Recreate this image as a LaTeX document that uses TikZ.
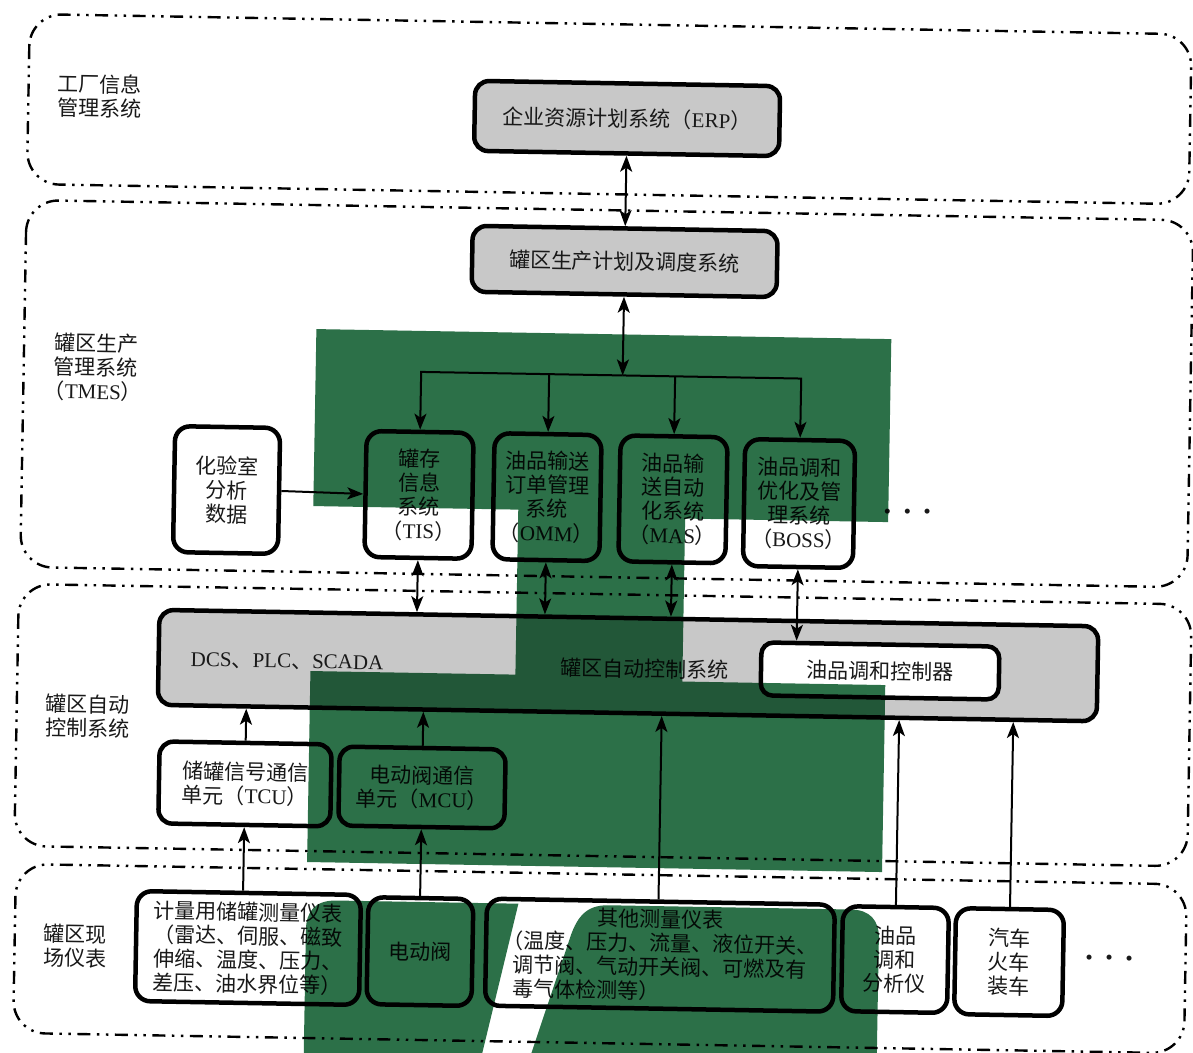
\documentclass[tikz,border=0pt]{standalone}
\usepackage{fontspec}
\setmainfont{Noto Sans CJK SC}
\newfontfamily\latf{Liberation Serif}
\newcommand\ltn[1]{{\latf #1}}
\usetikzlibrary{arrows.meta}
\definecolor{ovgreen}{RGB}{44,112,72}
\definecolor{boxgray}{RGB}{200,200,200}
\definecolor{ink}{RGB}{25,25,25}
\begin{document}
\begin{tikzpicture}[x=1pt,y=-1pt,
  every node/.style={font=\fontsize{21}{24}\selectfont, text=ink},
  layer/.style={draw=black, line width=2.4pt, rounded corners=32pt,
    dash pattern=on 13pt off 6.5pt on 2.5pt off 6.5pt on 2.5pt off 6.5pt},
  sysbox/.style={draw=black, line width=4.5pt, rounded corners=15pt, fill=white, align=center, inner sep=0pt},
  graybox/.style={draw=black, line width=4.5pt, rounded corners=14pt, fill=boxgray, inner sep=0pt, align=center},
  lbl/.style={align=left, anchor=west, inner sep=0pt},
  conn/.style={line width=2pt, draw=black},
  arr/.style={conn, -{Stealth[length=16pt,width=12pt,inset=4pt]}},
  darr/.style={conn, {Stealth[length=16pt,width=12pt,inset=4pt]}-{Stealth[length=16pt,width=12pt,inset=4pt]}},
]
\useasboundingbox (0,0) rectangle (1193,1052);
\fill[white] (0,0) rectangle (1193,1052);
\begin{scope}[rotate around={-1:(596.5,526)}, transform shape]
% layer frames
\draw[layer] (21,24) rectangle (1183,194);
\draw[layer] (21,210) rectangle (1188,577);
\draw[layer] (20,594) rectangle (1193,856);
\draw[layer] (22,874) rectangle (1193,1043);
% layer labels
\node[lbl] (t1) at (50,105) {工厂信息\\管理系统};
\node[lbl] (t2) at (51,376) {罐区生产\\管理系统\\\hspace*{-0.45em}（\ltn{TMES}）};
\node[lbl] (t3) at (49,725) {罐区自动\\控制系统};
\node[lbl] (t4) at (51,955) {罐区现\\场仪表};
% top boxes
\node[graybox, minimum width=305pt, minimum height=70pt] (erp) at (620,118) {企业资源计划系统（\ltn{ERP}）};
\node[graybox, minimum width=305pt, minimum height=66pt] (plan) at (620,261) {罐区生产计划及调度系统};
% TMES boxes
\node[sysbox, minimum width=105pt, minimum height=126pt] (lab) at (226,496.5) {化验室\\分析\\数据};
\node[sysbox, minimum width=107pt, minimum height=126pt] (tis) at (418.5,498) {罐存\\信息\\系统\\（\ltn{TIS}）};
\node[sysbox, minimum width=107pt, minimum height=126pt] (omm) at (546.5,498) {油品输送\\订单管理\\系统\\（\ltn{OMM}）};
\node[sysbox, minimum width=107pt, minimum height=126pt] (mas) at (672.5,498) {油品输\\送自动\\化系统\\（\ltn{MAS}）};
\node[sysbox, minimum width=110pt, minimum height=127pt] (boss) at (798.6,500) {油品调和\\优化及管\\理系统\\（\ltn{BOSS}）};
\node[anchor=base] (dots1) at (907,513) {\ltn{\textbullet\hspace{12.6pt}\textbullet\hspace{12.6pt}\textbullet}};
% automation layer
\node[graybox, minimum width=939pt, minimum height=95pt] (bus) at (630.5,665) {};
\node[anchor=west, inner sep=0pt] (dcs) at (193,667) {\ltn{DCS}、\ltn{PLC}、\ltn{SCADA}};
\node[inner sep=0pt] (busname) at (647,668) {罐区自动控制系统};
\node[sysbox, minimum width=238pt, minimum height=53pt, rounded corners=12pt] (ctrl) at (882.5,666) {油品调和控制器};
\node[sysbox, minimum width=172pt, minimum height=82pt, rounded corners=14pt] (tcu) at (249.5,790) {储罐信号通信\\单元（\ltn{TCU}）};
\node[sysbox, minimum width=166pt, minimum height=79pt, rounded corners=14pt] (mcu) at (426.6,790.5) {电动阀通信\\单元（\ltn{MCU}）};
% field layer
\node[sysbox, minimum width=224pt, minimum height=110pt] (meter) at (255.4,954) {计量用储罐测量仪表\\（雷达、伺服、磁致\\伸缩、温度、压力、\\差压、油水界位等）};
\node[sysbox, minimum width=105pt, minimum height=107pt] (valve) at (427.4,954.6) {电动阀};
\node[sysbox, minimum width=348pt, minimum height=107pt] (other) at (667.4,954) {其他测量仪表\\（温度、压力、流量、液位开关、\\调节阀、气动开关阀、可燃及有\\\makebox[14em][l]{毒气体检测等）}};
\node[sysbox, minimum width=106pt, minimum height=105pt] (ana) at (902.5,954.3) {油品\\调和\\分析仪};
\node[sysbox, minimum width=108pt, minimum height=106pt] (car) at (1016.6,954.8) {汽车\\火车\\装车};
\node[anchor=base] (dots2) at (1116.6,956) {\ltn{\textbullet\hspace{12.6pt}\textbullet\hspace{12.6pt}\textbullet}};
% connectors
\coordinate (junc) at (620,375);
\draw[darr] (erp.south) -- (plan.north);
\draw[darr] (plan.south) -- (junc);
\draw[arr] (junc) -| (tis.north);
\draw[arr] (junc) -| (boss.north);
\draw[arr] (omm.north |- junc) -- (omm.north);
\draw[arr] (mas.north |- junc) -- (mas.north);
\draw[arr] (lab.east) -- (tis.west);
\draw[darr] (tis.south) -- (tis.south |- bus.north);
\draw[darr] (omm.south) -- (omm.south |- bus.north);
\draw[darr] (mas.south) -- (mas.south |- bus.north);
\draw[darr] (boss.south) -- (boss.south |- ctrl.north);
\draw[arr] (tcu.north) -- (tcu.north |- bus.south);
\draw[arr] (mcu.north) -- (mcu.north |- bus.south);
\draw[arr] (tcu.south |- meter.north) -- (tcu.south);
\draw[arr] (mcu.south |- valve.north) -- (mcu.south);
\draw[arr] ([xshift=-2.4pt]other.north) -- ([xshift=-2.4pt]other.north |- bus.south);
\draw[arr] (ana.north) -- (ana.north |- bus.south);
\draw[arr] (car.north) -- (car.north |- bus.south);
% green overlay
\begin{scope}[blend mode=multiply]
\fill[ovgreen] (313,334) -- (888,334) -- (888,517) -- (685,517) -- (685,680) -- (888,680) -- (888,867) -- (313,867) -- (313,676) -- (518,676) -- (518,511) -- (313,511) -- cycle;
\fill[ovgreen] (313,1075) -- (313,935) .. controls (313,917) and (321,905) .. (343,905) -- (525,905) -- (487,1075) -- cycle;
\fill[ovgreen] (534,1075) -- (576,942) .. controls (583,918) and (592,905) .. (615,905) -- (858,905) .. controls (876,905) and (886,915) .. (886,933) -- (886,1075) -- cycle;
\end{scope}
\end{scope}
\end{tikzpicture}
\end{document}
